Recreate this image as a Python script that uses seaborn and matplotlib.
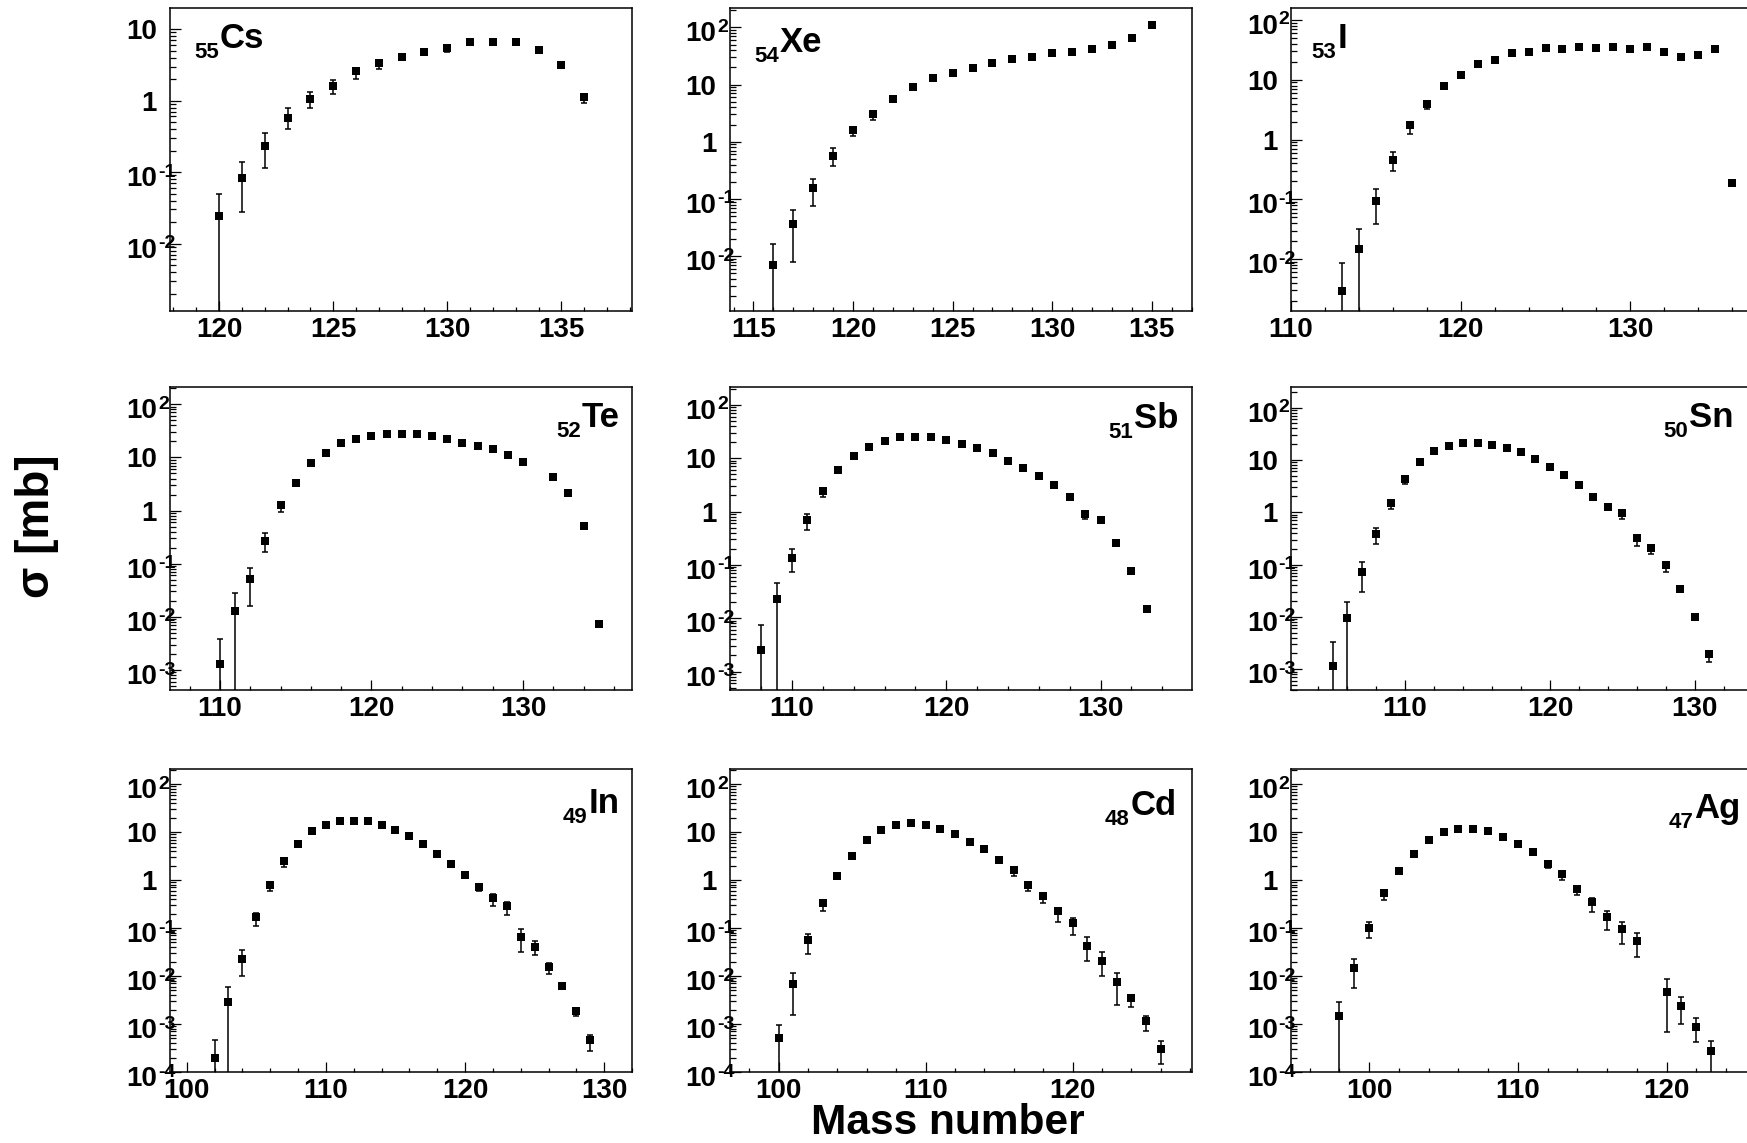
import numpy as np
import pandas as pd
import matplotlib
matplotlib.use("Agg")
import matplotlib.pyplot as plt
import matplotlib.transforms as mtransforms
from matplotlib.ticker import MultipleLocator, LogLocator, NullFormatter
import seaborn as sns

# ---------------------------------------------------------------------------
# Isotopic production cross sections (mb) with asymmetric uncertainties
# ---------------------------------------------------------------------------
cs_mass = [120, 121, 122, 123, 124, 125, 126, 127, 128, 129, 130, 131, 132, 133, 134, 135, 136]
cs_sigma = [0.024, 0.083, 0.234, 0.58, 1.07, 1.61, 2.58, 3.33, 4.05, 4.81, 5.42, 6.64, 6.64, 6.64, 5.13, 3.20, 1.12]
cs_err_lo = [0.024, 0.055, 0.119, 0.184, 0.29, 0.36, 0.57, 0.58, 0.40, 0.45, 0.56, 0.30, 0.30, 0.30, 0.25, 0.18, 0.18]
cs_err_hi = [0.025, 0.054, 0.114, 0.20, 0.27, 0.34, 0.26, 0.32, 0.25, 0.29, 0.38, 0.30, 0.30, 0.30, 0.25, 0.18, 0.08]

xe_mass = [116, 117, 118, 119, 120, 121, 122, 123, 124, 125, 126, 127, 128, 129, 130, 131, 132, 133, 134, 135]
xe_sigma = [0.0069, 0.036, 0.153, 0.56, 1.60, 3.00, 5.7, 8.9, 12.9, 16.0, 19.8, 23.6, 27.7, 30.4, 35.7, 37.6, 41.9, 49.8, 65.2, 111.0]
xe_err_lo = [0.0069, 0.0282, 0.0775, 0.18, 0.34, 0.60, 0.25, 0.35, 0.45, 0.55, 0.65, 0.75, 0.85, 0.95, 1.05, 1.15, 1.3, 1.5, 2.0, 3.0]
xe_err_hi = [0.0097, 0.028, 0.070, 0.205, 0.20, 0.30, 0.25, 0.35, 0.45, 0.55, 0.65, 0.75, 0.85, 0.95, 1.05, 1.15, 1.3, 1.5, 2.0, 3.0]

i_mass = [113, 114, 115, 116, 117, 118, 119, 120, 121, 122, 123, 124, 125, 126, 127, 128, 129, 130, 131, 132, 133, 134, 135, 136]
i_sigma = [0.0029, 0.0146, 0.093, 0.46, 1.73, 4.0, 7.9, 11.8, 18.2, 21.3, 27.9, 29.0, 33.8, 32.1, 35.1, 33.8, 35.1, 32.1, 35.1, 29.0, 23.6, 26.1, 32.1, 0.188]
i_err_lo = [0.0029, 0.0146, 0.055, 0.165, 0.47, 0.76, 0.3, 0.4, 0.5, 0.6, 0.7, 0.7, 0.8, 0.8, 0.9, 0.8, 0.9, 0.8, 0.9, 0.7, 0.6, 0.7, 0.8, 0.02]
i_err_hi = [0.0056, 0.0168, 0.053, 0.16, 0.27, 0.30, 0.3, 0.4, 0.5, 0.6, 0.7, 0.7, 0.8, 0.8, 0.9, 0.8, 0.9, 0.8, 0.9, 0.7, 0.6, 0.7, 0.8, 0.012]

te_mass = [110, 111, 112, 113, 114, 115, 116, 117, 118, 119, 120, 121, 122, 123, 124, 125, 126, 127, 128, 129, 130, 132, 133, 134, 135]
te_sigma = [0.00131, 0.01285, 0.0526, 0.272, 1.25, 3.31, 7.7, 12.2, 18.7, 22.6, 25.4, 28.1, 28.1, 28.1, 25.4, 22.6, 18.7, 16.6, 14.2, 11.1, 8.28, 4.31, 2.14, 0.522, 0.0074]
te_err_lo = [0.00131, 0.01285, 0.0366, 0.109, 0.315, 0.32, 0.3, 0.4, 0.5, 0.6, 0.6, 0.7, 0.7, 0.7, 0.6, 0.6, 0.5, 0.45, 0.4, 0.35, 0.3, 0.2, 0.1, 0.03, 0.0006]
te_err_hi = [0.0026, 0.0158, 0.030, 0.108, 0.15, 0.20, 0.3, 0.4, 0.5, 0.6, 0.6, 0.7, 0.7, 0.7, 0.6, 0.6, 0.5, 0.45, 0.4, 0.35, 0.3, 0.2, 0.1, 0.03, 0.0006]

sb_mass = [108, 109, 110, 111, 112, 113, 114, 115, 116, 117, 118, 119, 120, 121, 122, 123, 124, 125, 126, 127, 128, 129, 130, 131, 132, 133]
sb_sigma = [0.00255, 0.0234, 0.135, 0.688, 2.44, 6.04, 11.1, 16.5, 20.8, 25.1, 25.1, 25.1, 22.1, 18.6, 15.6, 12.4, 8.79, 6.59, 4.67, 3.12, 1.88, 0.917, 0.688, 0.255, 0.0772, 0.01475]
sb_err_lo = [0.00255, 0.0234, 0.061, 0.241, 0.53, 0.84, 0.4, 0.5, 0.6, 0.6, 0.6, 0.6, 0.6, 0.5, 0.5, 0.4, 0.3, 0.25, 0.2, 0.15, 0.25, 0.20, 0.05, 0.02, 0.006, 0.001]
sb_err_hi = [0.0050, 0.022, 0.062, 0.20, 0.20, 0.40, 0.4, 0.5, 0.6, 0.6, 0.6, 0.6, 0.6, 0.5, 0.5, 0.4, 0.3, 0.25, 0.2, 0.15, 0.12, 0.08, 0.05, 0.02, 0.006, 0.001]

sn_mass = [105, 106, 107, 108, 109, 110, 111, 112, 113, 114, 115, 116, 117, 118, 119, 120, 121, 122, 123, 124, 125, 126, 127, 128, 129, 130, 131]
sn_sigma = [0.00117, 0.00944, 0.0734, 0.38, 1.53, 4.4, 9.16, 14.6, 18.5, 20.8, 20.8, 19.6, 16.5, 14.0, 10.3, 7.24, 5.09, 3.33, 1.99, 1.28, 0.957, 0.318, 0.205, 0.0986, 0.0338, 0.00986, 0.00196]
sn_err_lo = [0.00117, 0.00944, 0.043, 0.135, 0.39, 0.93, 0.3, 0.4, 0.5, 0.5, 0.5, 0.5, 0.4, 0.4, 0.3, 0.25, 0.2, 0.15, 0.17, 0.10, 0.20, 0.09, 0.045, 0.027, 0.004, 0.001, 0.00056]
sn_err_hi = [0.0022, 0.0094, 0.038, 0.114, 0.15, 0.30, 0.3, 0.4, 0.5, 0.5, 0.5, 0.5, 0.4, 0.4, 0.3, 0.25, 0.2, 0.15, 0.10, 0.08, 0.06, 0.05, 0.025, 0.015, 0.003, 0.0008, 0.00028]

in_mass = [102, 103, 104, 105, 106, 107, 108, 109, 110, 111, 112, 113, 114, 115, 116, 117, 118, 119, 120, 121, 122, 123, 124, 125, 126, 127, 128, 129]
in_sigma = [0.000197, 0.00286, 0.0227, 0.172, 0.782, 2.5, 5.73, 10.5, 14.2, 17.2, 17.2, 17.2, 14.2, 11.0, 8.13, 5.73, 3.44, 2.2, 1.26, 0.722, 0.426, 0.291, 0.064, 0.0409, 0.01574, 0.00625, 0.00183, 0.000458]
in_err_lo = [0.000197, 0.00286, 0.0125, 0.06, 0.186, 0.63, 0.3, 0.4, 0.4, 0.5, 0.5, 0.5, 0.4, 0.35, 0.3, 0.25, 0.15, 0.1, 0.08, 0.126, 0.135, 0.105, 0.0327, 0.0134, 0.00484, 0.00095, 0.00039, 0.000179]
in_err_hi = [0.000276, 0.0030, 0.0122, 0.03, 0.08, 0.2, 0.3, 0.4, 0.4, 0.5, 0.5, 0.5, 0.4, 0.35, 0.3, 0.25, 0.15, 0.1, 0.08, 0.06, 0.082, 0.05, 0.0298, 0.0128, 0.003, 0.0007, 0.00038, 0.000143]

cd_mass = [100, 101, 102, 103, 104, 105, 106, 107, 108, 109, 110, 111, 112, 113, 114, 115, 116, 117, 118, 119, 120, 121, 122, 123, 124, 125, 126]
cd_sigma = [0.000512, 0.00676, 0.0564, 0.325, 1.2, 3.13, 6.93, 10.8, 13.8, 15.4, 14.2, 11.7, 8.95, 6.19, 4.43, 2.67, 1.6, 0.807, 0.462, 0.225, 0.125, 0.043, 0.021, 0.00769, 0.00347, 0.001135, 0.000303]
cd_err_lo = [0.000512, 0.0052, 0.0276, 0.096, 0.17, 0.43, 0.3, 0.4, 0.4, 0.5, 0.4, 0.35, 0.3, 0.25, 0.2, 0.15, 0.38, 0.211, 0.126, 0.09, 0.0534, 0.022, 0.0112, 0.00517, 0.00122, 0.00043, 0.000154]
cd_err_hi = [0.000425, 0.00469, 0.0186, 0.05, 0.1, 0.2, 0.3, 0.4, 0.4, 0.5, 0.4, 0.35, 0.3, 0.25, 0.2, 0.15, 0.12, 0.08, 0.05, 0.039, 0.034, 0.0231, 0.0103, 0.0041, 0.00059, 0.000355, 0.000148]

ag_mass = [98, 99, 100, 101, 102, 103, 104, 105, 106, 107, 108, 109, 110, 111, 112, 113, 114, 115, 116, 117, 118, 120, 121, 122, 123]
ag_sigma = [0.00144, 0.01455, 0.1016, 0.525, 1.55, 3.55, 6.71, 9.84, 11.7, 11.7, 10.5, 8.0, 5.73, 3.91, 2.13, 1.32, 0.667, 0.341, 0.166, 0.0938, 0.0546, 0.00454, 0.00233, 0.000867, 0.000271]
ag_err_lo = [0.00144, 0.00878, 0.0406, 0.144, 0.18, 0.52, 0.3, 0.35, 0.4, 0.4, 0.35, 0.3, 0.25, 0.2, 0.31, 0.327, 0.167, 0.13, 0.0753, 0.048, 0.0292, 0.00386, 0.00131, 0.00045, 0.000271]
ag_err_hi = [0.00138, 0.00775, 0.0334, 0.05, 0.1, 0.2, 0.3, 0.35, 0.4, 0.4, 0.35, 0.3, 0.25, 0.2, 0.12, 0.08, 0.07, 0.072, 0.059, 0.0412, 0.0254, 0.00406, 0.00131, 0.000463, 0.000165]

element_z = [55, 54, 53, 52, 51, 50, 49, 48, 47]
element_symbol = ["Cs", "Xe", "I", "Te", "Sb", "Sn", "In", "Cd", "Ag"]

# ---------------------------------------------------------------------------
# Style
# ---------------------------------------------------------------------------
sns.set_theme(style="ticks")
plt.rcParams["font.family"] = ["Liberation Sans", "DejaVu Sans"]
plt.rcParams["font.weight"] = "bold"
plt.rcParams["axes.edgecolor"] = "black"
plt.rcParams["axes.linewidth"] = 1.1
plt.rcParams["axes.facecolor"] = "white"
plt.rcParams["figure.facecolor"] = "white"

DPI = 100
TICK_FS = 20
SUP_FS = 14
SYM_FS = 25
SYM_SUB_FS = 16

fig = plt.figure(figsize=(17.47, 11.43), dpi=DPI)

col_left = [0.0973, 0.4176, 0.7388]
row_bottom = [0.7279, 0.3963, 0.0621]
ax_w, ax_h = 0.2645, 0.2650

panels = [
    # mass, sigma, err_lo, err_hi, xlim, ylim, major step, label side, label anchor
    (cs_mass, cs_sigma, cs_err_lo, cs_err_hi, (117.85, 138.1), (1.14e-3, 19.7), 5, "left", (0.052, 0.868)),
    (xe_mass, xe_sigma, xe_err_lo, xe_err_hi, (113.8, 137.0), (1.1e-3, 217), 5, "left", (0.053, 0.855)),
    (i_mass, i_sigma, i_err_lo, i_err_hi, (110.0, 137.2), (1.35e-3, 158), 10, "left", (0.045, 0.868)),
    (te_mass, te_sigma, te_err_lo, te_err_hi, (106.7, 137.2), (4.2e-4, 210), 10, "right", (0.974, 0.868)),
    (sb_mass, sb_sigma, sb_err_lo, sb_err_hi, (105.95, 135.9), (4.5e-4, 215), 10, "right", (0.972, 0.864)),
    (sn_mass, sn_sigma, sn_err_lo, sn_err_hi, (102.1, 134.0), (4.0e-4, 245), 10, "right", (0.959, 0.868)),
    (in_mass, in_sigma, in_err_lo, in_err_hi, (98.8, 132.0), (1e-4, 205), 10, "right", (0.973, 0.856)),
    (cd_mass, cd_sigma, cd_err_lo, cd_err_hi, (96.67, 128.1), (1e-4, 205), 10, "right", (0.968, 0.849)),
    (ag_mass, ag_sigma, ag_err_lo, ag_err_hi, (94.72, 125.8), (1e-4, 205), 10, "right", (0.974, 0.840)),
]


def px(dx, dy):
    return mtransforms.ScaledTranslation(dx / DPI, dy / DPI, fig.dpi_scale_trans)


def decade_labels(ax, ylim):
    """ROOT-like log labels: '1', '10', and '10' with a raised exponent."""
    lo = int(np.ceil(np.log10(ylim[0]) - 1e-9))
    hi = int(np.floor(np.log10(ylim[1]) + 1e-9))
    tr = mtransforms.blended_transform_factory(ax.transAxes, ax.transData)
    for e in range(lo, hi + 1):
        v = 10.0 ** e
        if e == 0:
            base, sup = "1", None
        elif e == 1:
            base, sup = "10", None
        else:
            base, sup = "10", str(e)
        dy = -4 if sup else 0
        ax.text(0, v, base, transform=tr + px(-13, dy), ha="right",
                va="center_baseline", fontsize=TICK_FS, fontweight="bold",
                color="black", clip_on=False)
        if sup:
            ax.text(0, v, sup, transform=tr + px(-12, 2), ha="left",
                    va="center_baseline", fontsize=SUP_FS, fontweight="bold",
                    color="black", clip_on=False)


renderer = fig.canvas.get_renderer()


def element_label(ax, z, sym, anchor, side):
    x, y = anchor
    if side == "left":
        t_sub = ax.text(x, y, str(z), transform=ax.transAxes + px(0, -10),
                        ha="left", va="baseline", fontsize=SYM_SUB_FS,
                        fontweight="bold", color="black")
        w = t_sub.get_window_extent(renderer).width
        ax.text(x, y, sym, transform=ax.transAxes + px(w + 1, 0),
                ha="left", va="baseline", fontsize=SYM_FS,
                fontweight="bold", color="black")
    else:
        t_main = ax.text(x, y, sym, transform=ax.transAxes, ha="right",
                         va="baseline", fontsize=SYM_FS, fontweight="bold",
                         color="black")
        w = t_main.get_window_extent(renderer).width
        ax.text(x, y, str(z), transform=ax.transAxes + px(-(w + 1), -10),
                ha="right", va="baseline", fontsize=SYM_SUB_FS,
                fontweight="bold", color="black")


for k, (mass, sigma, err_lo, err_hi, xlim, ylim, step, side, anchor) in enumerate(panels):
    r, c = divmod(k, 3)
    ax = fig.add_axes([col_left[c], row_bottom[r], ax_w, ax_h])
    df = pd.DataFrame({"mass": mass, "sigma": sigma, "lo": err_lo, "hi": err_hi})

    ax.errorbar(df["mass"], df["sigma"], yerr=[df["lo"], df["hi"]], fmt="none",
                ecolor="black", elinewidth=1.1, capsize=2.4, capthick=1.1, zorder=2)
    sns.scatterplot(data=df, x="mass", y="sigma", ax=ax, marker="s", s=40,
                    color="black", edgecolor="black", linewidth=0, zorder=3,
                    legend=False)

    ax.set_yscale("log")
    ax.set_xlim(*xlim)
    ax.set_ylim(*ylim)
    ax.set_xlabel("")
    ax.set_ylabel("")

    ax.xaxis.set_major_locator(MultipleLocator(step))
    ax.xaxis.set_minor_locator(MultipleLocator(1 if step == 5 else 2))
    ax.yaxis.set_major_locator(LogLocator(base=10, numticks=20))
    ax.yaxis.set_minor_locator(LogLocator(base=10, subs=np.arange(2, 10), numticks=100))
    ax.yaxis.set_major_formatter(NullFormatter())
    ax.yaxis.set_minor_formatter(NullFormatter())

    ax.tick_params(axis="both", which="both", direction="in", top=False,
                   right=False, color="black", width=0.9)
    ax.tick_params(axis="y", which="major", length=8)
    ax.tick_params(axis="y", which="minor", length=4)
    ax.tick_params(axis="x", which="major", length=7, pad=4,
                   labelsize=TICK_FS, labelcolor="black")
    ax.tick_params(axis="x", which="minor", length=3)
    for lab in ax.get_xticklabels():
        lab.set_fontweight("bold")

    for sp in ax.spines.values():
        sp.set_visible(True)
        sp.set_color("black")
        sp.set_linewidth(1.1)
    ax.grid(False)

    decade_labels(ax, ylim)
    element_label(ax, element_z[k], element_symbol[k], anchor, side)

fig.text(0.0212, 0.54, "σ [mb]", rotation=90, ha="center", va="center",
         fontsize=33, fontweight="bold", color="black")
fig.text(0.5426, 0.0, "Mass number", ha="center", va="bottom",
         fontsize=30.5, fontweight="bold", color="black")

fig.savefig("out.png", dpi=DPI)
